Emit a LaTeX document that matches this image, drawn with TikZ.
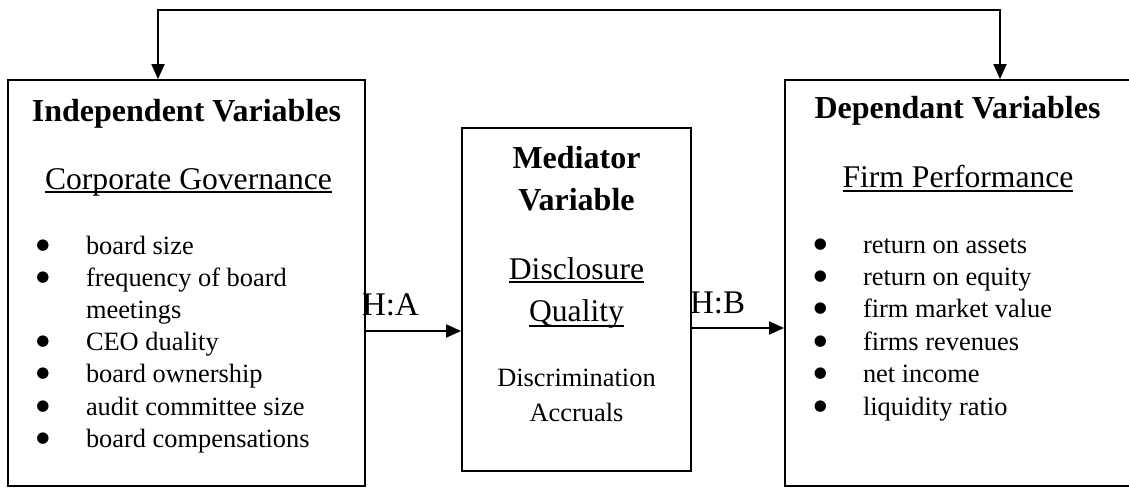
\documentclass[tikz,border=0pt]{standalone}
\usepackage{fontspec}
\setmainfont{Liberation Serif}
\newfontfamily\symfont{DejaVu Sans}
\usetikzlibrary{arrows.meta}
\tikzset{
  box/.style={draw, line width=1.8pt, rectangle, inner sep=0pt},
  txt/.style={inner sep=0pt, outer sep=0pt, anchor=base},
  lft/.style={inner sep=0pt, outer sep=0pt, anchor=base west},
  hd/.style={txt, font=\fontsize{32}{36}\selectfont\bfseries},
  sub/.style={txt, font=\fontsize{31.6}{36}\selectfont},
  item/.style={lft, font=\fontsize{26.4}{30}\selectfont},
  small/.style={txt, font=\fontsize{26.4}{30}\selectfont},
  bul/.style={txt, font=\symfont\fontsize{15}{17}\selectfont},
  hlab/.style={lft, font=\fontsize{33}{36}\selectfont},
  ul/.style={line width=1.3pt},
  conn/.style={line width=1.8pt, -{Triangle[length=15pt,width=13pt]}},
  conn2/.style={line width=1.8pt, {Triangle[length=15pt,width=13pt]}-{Triangle[length=15pt,width=13pt]}}
}
\begin{document}
\begin{tikzpicture}[x=1pt,y=-1pt]
\useasboundingbox (0,0) rectangle (1129,487);
% labels on the arrows (drawn first so box borders lie over them)
\node[hlab] (ha) at (362,315) {H:A};
\node[hlab] (hb) at (690,313) {H:B};
% boxes
\node[box, minimum width=357pt, minimum height=406pt] (L) at (186.5,283) {};
\node[box, minimum width=229pt, minimum height=343pt] (M) at (576.5,299.5) {};
\node[box, minimum width=345pt, minimum height=406pt] (R) at (957.5,283) {};
% top feedback connector
\coordinate (tl) at (158,10);
\coordinate (tr) at (1000,10);
\draw[conn2] (tl |- L.north) -- (tl) -- (tr) -- (tr |- R.north);
% horizontal connectors
\coordinate (ya) at (0,331);
\coordinate (yb) at (0,328);
\draw[conn] (L.east |- ya) -- (M.west |- ya);
\draw[conn] (M.east |- yb) -- (R.west |- yb);
% left box text
\node[hd] (lh) at (186.5,121) {Independent Variables};
\node[sub] (lsub) at (188.5,189) {Corporate Governance};
\draw[ul] ([yshift=-3pt]lsub.base west) -- ([yshift=-3pt]lsub.base east);
\foreach \t [count=\i from 0] in {board size, frequency of board, meetings, CEO duality, board ownership, audit committee size, board compensations} {
  \node[item] (li\i) at (86,{254.5+32.1*\i}) {\t};
}
\foreach \i in {0,1,3,4,5,6} {
  \node[bul] (lb\i) at (42.8,{249.5+32.1*\i}) {●};
}
% middle box text
\node[hd] (m1) at (576.5,168) {Mediator};
\node[hd] (m2) at (576.5,210) {Variable};
\node[sub] (m3) at (576.5,279) {Disclosure};
\draw[ul] ([yshift=-3pt]m3.base west) -- ([yshift=-3pt]m3.base east);
\node[sub] (m4) at (576.5,321) {Quality};
\draw[ul] ([yshift=-5pt]m4.base west) -- ([yshift=-5pt]m4.base east);
\node[small] (m5) at (576.5,386) {Discrimination};
\node[small] (m6) at (576.5,421) {Accruals};
% right box text
\node[hd] (rh) at (957.5,118) {Dependant Variables};
\node[sub] (rsub) at (958,187) {Firm Performance};
\draw[ul] ([yshift=-4pt]rsub.base west) -- ([yshift=-4pt]rsub.base east);
\foreach \t [count=\i from 0] in {return on assets, return on equity, firm market value, firms revenues, net income, liquidity ratio} {
  \node[item] (ri\i) at (863,{253+32.4*\i}) {\t};
  \node[bul] (rb\i) at (820.5,{248+32.4*\i}) {●};
}
\end{tikzpicture}
\end{document}
